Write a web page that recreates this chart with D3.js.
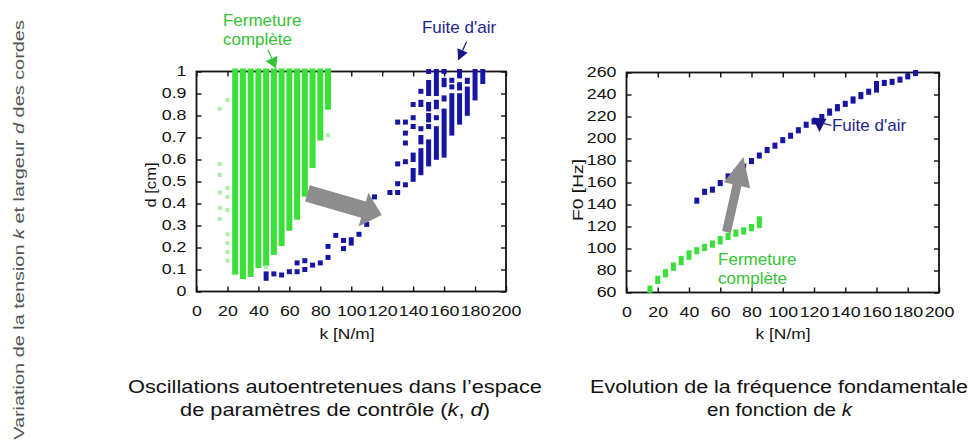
<!DOCTYPE html>
<html>
<head>
<meta charset="utf-8">
<script src="https://d3js.org/d3.v7.min.js"></script>
<style>
  body { margin: 0; background: #fff; }
  svg { display: block; font-family: "Liberation Sans", Arial, Helvetica, sans-serif; }
</style>
</head>
<body>
<svg id="fig" width="973" height="445"></svg>
<script>
// ---------- data ----------
const kTicks = [0, 20, 40, 60, 80, 100, 120, 140, 160, 180, 200];
const dTicks = [0, 0.1, 0.2, 0.3, 0.4, 0.5, 0.6, 0.7, 0.8, 0.9, 1];
const dTickLabels = ["0", "0.1", "0.2", "0.3", "0.4", "0.5", "0.6", "0.7", "0.8", "0.9", "1"];
const f0Ticks = [60, 80, 100, 120, 140, 160, 180, 200, 220, 240, 260];

// (k, d) plane, complete closure: each k gives a run of d values [k, dLow, dHigh]
const closureRuns = [
  [25, 0.09, 1], [30, 0.07, 1], [35, 0.08, 1], [40, 0.12, 1], [45, 0.13, 1],
  [50, 0.18, 1], [55, 0.22, 1], [60, 0.29, 1], [65, 0.34, 1], [70, 0.445, 1],
  [75, 0.575, 1], [80, 0.70, 1], [85, 0.84, 1]
];
// isolated closure cases [k, d]
const closureIsolated = [
  [15, 0.83], [15, 0.58], [15, 0.53], [15, 0.45], [15, 0.38], [15, 0.33],
  [20, 0.87], [20, 0.47], [20, 0.43], [20, 0.37], [20, 0.26], [20, 0.22],
  [20, 0.18], [20, 0.14], [45, 0.11], [85, 0.71]
];
// (k, d) plane, air leakage: [k, dLow, dHigh]
const leakRuns = [
  [45, 0.06, 0.08], [50, 0.08, 0.08], [55, 0.075, 0.075], [60, 0.09, 0.09],
  [65, 0.09, 0.09], [65, 0.13, 0.13], [70, 0.10, 0.10], [70, 0.14, 0.14],
  [75, 0.12, 0.12], [80, 0.13, 0.13], [85, 0.155, 0.155], [85, 0.205, 0.205],
  [90, 0.255, 0.255], [95, 0.195, 0.195], [95, 0.232, 0.232], [100, 0.22, 0.235],
  [105, 0.26, 0.26], [110, 0.305, 0.305], [115, 0.43, 0.43], [125, 0.45, 0.45],
  [130, 0.45, 0.45], [130, 0.49, 0.49], [135, 0.485, 0.485], [130, 0.58, 0.58],
  [135, 0.59, 0.59], [130, 0.77, 0.77], [135, 0.77, 0.77], [135, 0.72, 0.72],
  [135, 0.675, 0.675],
  [140, 0.51, 0.55], [140, 0.60, 0.62], [140, 0.75, 0.75], [140, 0.79, 0.79], [140, 0.85, 0.85],
  [145, 0.54, 0.64], [145, 0.68, 0.70], [145, 0.74, 0.74], [145, 0.85, 0.86], [145, 0.91, 0.91],
  [150, 0.58, 0.68], [150, 0.75, 0.75], [150, 0.78, 0.80], [150, 0.83, 0.85], [150, 0.90, 0.95], [150, 1, 1],
  [155, 0.61, 0.74], [155, 0.79, 0.79], [155, 0.84, 0.86], [155, 0.90, 1],
  [160, 0.62, 0.82], [160, 0.875, 0.88], [160, 0.94, 0.96], [160, 1, 1],
  [165, 0.72, 0.89], [165, 0.93, 0.93], [165, 0.96, 0.96],
  [170, 0.77, 0.89], [170, 0.925, 0.94], [170, 0.98, 1],
  [175, 0.81, 0.92], [175, 0.955, 0.96],
  [180, 0.88, 1],
  [185, 0.955, 1]
];
// fundamental frequency F0 [Hz] against k: [k, F0low, F0high]
const closureF0 = [
  [15, 62, 64], [20, 70, 73], [25, 76, 79], [30, 82, 85], [35, 87, 91],
  [40, 92, 96], [45, 97, 99], [50, 100, 102], [55, 103, 105], [60, 106, 109],
  [65, 110, 112], [70, 113, 115], [75, 115, 117], [80, 118, 120], [85, 121, 127]
];
const leakF0 = [
  [45, 143, 144], [50, 151, 152], [55, 153, 154], [60, 159, 160], [65, 165, 166],
  [70, 170, 170], [75, 175, 175], [80, 179, 180], [85, 184, 185], [90, 189, 190],
  [95, 193, 194], [100, 198, 199], [105, 202, 203], [110, 207, 208], [115, 212, 213],
  [120, 215, 216], [125, 220, 220], [130, 223, 225], [135, 227, 229], [140, 231, 232],
  [145, 234, 236], [150, 238, 240], [155, 242, 243], [160, 244, 250], [165, 250, 251],
  [170, 251, 252], [175, 253, 254], [180, 256, 257], [185, 259, 260]
];

// ---------- styles ----------
const FONT = '"Liberation Sans", Arial, Helvetica, sans-serif';
const GREEN = "#38e038";
const GREEN_FAINT = "#aaeeaa";
const BLUE = "#1616a2";
const GREEN_TEXT = "#35c335";
const BLUE_TEXT = "#1e2590";
const ARROW_GREY = "#8d8d8d";
const WIDE = 1.27;   // horizontal stretch of the numeric labels

const svg = d3.select("#fig");

// ---------- scales ----------
const xL = d3.scaleLinear().domain([0, 200]).range([196.5, 506]);
const yL = d3.scaleLinear().domain([0, 1]).range([291.5, 71.5]);
const xR = d3.scaleLinear().domain([0, 200]).range([626.5, 939]);
const yR = d3.scaleLinear().domain([60, 260]).range([292.5, 72.5]);

// ---------- helpers ----------
function drawFrame(g, x, y, xt, yt, yfmt) {
  const [xa, xb] = x.range(), [ya, yb] = y.range();
  const bottom = g.append("g").attr("transform", `translate(0,${ya})`)
    .call(d3.axisBottom(x).tickValues(xt).tickSize(-5).tickPadding(15).tickFormat(d3.format("d")));
  const top = g.append("g").attr("transform", `translate(0,${yb})`)
    .call(d3.axisTop(x).tickValues(xt).tickSize(-5).tickFormat(""));
  const left = g.append("g").attr("transform", `translate(${xa},0)`)
    .call(d3.axisLeft(y).tickValues(yt).tickSize(-5).tickPadding(10).tickFormat(yfmt));
  const right = g.append("g").attr("transform", `translate(${xb},0)`)
    .call(d3.axisRight(y).tickValues(yt).tickSize(-5).tickFormat(""));
  [bottom, top, left, right].forEach(a => {
    a.select(".domain").remove();
    a.selectAll("line").attr("stroke", "#111").attr("stroke-width", 1.4);
    a.selectAll("text").attr("font-size", 14).attr("font-family", FONT).attr("fill", "#111");
  });
  bottom.selectAll("text").attr("transform", `scale(${WIDE},1)`);
  left.selectAll("text").each(function () {
    const xv = +this.getAttribute("x");
    this.setAttribute("x", xv / WIDE);
    this.setAttribute("transform", `scale(${WIDE},1)`);
  });
  g.append("rect")
    .attr("x", xa).attr("y", yb).attr("width", xb - xa).attr("height", ya - yb)
    .attr("fill", "none").attr("stroke", "#111").attr("stroke-width", 1.8);
}

function drawRuns(g, data, x, y, w, color) {
  g.append("g").selectAll("rect").data(data).join("rect")
    .attr("x", d => x(d[0]) - w / 2)
    .attr("y", d => y(d[2]) - w / 2)
    .attr("width", w)
    .attr("height", d => y(d[1]) - y(d[2]) + w)
    .attr("fill", color);
}

function blockArrow(p0, p1, bodyW, headL, headW) {
  const dx = p1[0] - p0[0], dy = p1[1] - p0[1], len = Math.hypot(dx, dy);
  const ux = dx / len, uy = dy / len, nx = -uy, ny = ux;
  const bx = p1[0] - ux * headL, by = p1[1] - uy * headL;
  return [
    [p0[0] + nx * bodyW / 2, p0[1] + ny * bodyW / 2],
    [bx + nx * bodyW / 2, by + ny * bodyW / 2],
    [bx + nx * headW / 2, by + ny * headW / 2],
    p1,
    [bx - nx * headW / 2, by - ny * headW / 2],
    [bx - nx * bodyW / 2, by - ny * bodyW / 2],
    [p0[0] - nx * bodyW / 2, p0[1] - ny * bodyW / 2]
  ];
}

function pointer(g, p0, p1, headL, headW, color) {
  const dx = p1[0] - p0[0], dy = p1[1] - p0[1], len = Math.hypot(dx, dy);
  const ux = dx / len, uy = dy / len, nx = -uy, ny = ux;
  const bx = p1[0] - ux * headL, by = p1[1] - uy * headL;
  g.append("line").attr("x1", p0[0]).attr("y1", p0[1]).attr("x2", bx).attr("y2", by)
    .attr("stroke", color).attr("stroke-width", 1.2);
  g.append("polygon")
    .attr("points", [[bx + nx * headW / 2, by + ny * headW / 2], p1, [bx - nx * headW / 2, by - ny * headW / 2]].map(p => p.join(",")).join(" "))
    .attr("fill", color);
}

// text stretched horizontally to a given width, anchored at its middle
function wideText(g, x, y, size, width, parts, fill, rotate) {
  const grp = g.append("g");
  const t = grp.append("text").attr("text-anchor", "middle")
    .attr("font-size", size).attr("font-family", FONT).attr("fill", fill);
  parts.forEach(p => {
    const s = t.append("tspan").text(p.t);
    if (p.i) s.attr("font-style", "italic");
  });
  const w = t.node().getComputedTextLength();
  grp.attr("transform", `translate(${x},${y})${rotate ? " rotate(-90)" : ""} scale(${width / w},1)`);
  return grp;
}

function label(g, x, y, size, str, fill) {
  g.append("text").attr("x", x).attr("y", y).attr("font-size", size)
    .attr("font-family", FONT).attr("fill", fill).text(str);
}

// ---------- left panel: (k, d) plane ----------
const gL = svg.append("g");
drawFrame(gL, xL, yL, kTicks, dTicks, (d, i) => dTickLabels[i]);
drawRuns(gL, closureRuns, xL, yL, 6, GREEN);
gL.append("g").selectAll("rect").data(closureIsolated).join("rect")
  .attr("x", d => xL(d[0]) - 2).attr("y", d => yL(d[1]) - 2)
  .attr("width", 4).attr("height", 4).attr("fill", GREEN_FAINT);
drawRuns(gL, leakRuns, xL, yL, 5, BLUE);

gL.append("polygon")
  .attr("points", blockArrow([xL(71.7), yL(0.446)], [xL(119.7), yL(0.348)], 17, 19, 35).map(p => p.join(",")).join(" "))
  .attr("fill", ARROW_GREY);

label(gL, xL(17.1), yL(1.207), 17, "Fermeture", GREEN_TEXT);
label(gL, xL(17.1), yL(1.120), 17, "complète", GREEN_TEXT);
pointer(gL, [xL(46.2), yL(1.098)], [xL(51.4), yL(1.014)], 11, 13, GREEN_TEXT);

label(gL, xL(145.7), yL(1.177), 17, "Fuite d'air", BLUE_TEXT);
pointer(gL, [xL(174.5), yL(1.135)], [xL(169), yL(1.050)], 11, 11, "#14148a");

wideText(gL, 156, 185, 15, 45, [{t: "d [cm]"}], "#111", true);
wideText(gL, 347, 339, 15, 55, [{t: "k [N/m]"}], "#111", false);

// ---------- right panel: F0 against k ----------
const gR = svg.append("g");
drawFrame(gR, xR, yR, kTicks, f0Ticks, d3.format("d"));
drawRuns(gR, closureF0, xR, yR, 5, GREEN);
drawRuns(gR, leakF0, xR, yR, 5, BLUE);

gR.append("polygon")
  .attr("points", blockArrow([xR(64), yR(115)], [xR(74.8), yR(183.2)], 9, 29, 27).map(p => p.join(",")).join(" "))
  .attr("fill", ARROW_GREY);

label(gR, xR(131.5), yR(206.8), 17, "Fuite d'air", BLUE_TEXT);
gR.append("line")
  .attr("x1", xR(126.5)).attr("y1", yR(213.5)).attr("x2", xR(131.2)).attr("y2", yR(211.8))
  .attr("stroke", "#14148a").attr("stroke-width", 1.2);
gR.append("polygon")
  .attr("points", [[xR(119), yR(219)], [xR(128), yR(218)], [xR(123.5), yR(206)]].map(p => p.join(",")).join(" "))
  .attr("fill", "#14148a");

label(gR, xR(58.6), yR(85), 17, "Fermeture", GREEN_TEXT);
label(gR, xR(58.6), yR(67.7), 17, "complète", GREEN_TEXT);

wideText(gR, 583, 190, 15, 62, [{t: "F0 [Hz]"}], "#111", true);
wideText(gR, 783, 339, 15, 55, [{t: "k [N/m]"}], "#111", false);

// ---------- captions ----------
wideText(svg, 335, 393, 17.5, 414, [{t: "Oscillations autoentretenues dans l’espace"}], "#111", false);
wideText(svg, 335, 415.5, 17.5, 310, [{t: "de paramètres de contrôle ("}, {t: "k", i: true}, {t: ", "}, {t: "d", i: true}, {t: ")"}], "#111", false);
wideText(svg, 779, 393, 17.5, 378, [{t: "Evolution de la fréquence fondamentale"}], "#111", false);
wideText(svg, 779.5, 416, 17.5, 145, [{t: "en fonction de "}, {t: "k", i: true}], "#111", false);

wideText(svg, 24, 230, 15, 420, [
  {t: "Variation de la tension "}, {t: "k", i: true}, {t: " et largeur "}, {t: "d", i: true}, {t: " des cordes"}
], "#555", true);
</script>
</body>
</html>
